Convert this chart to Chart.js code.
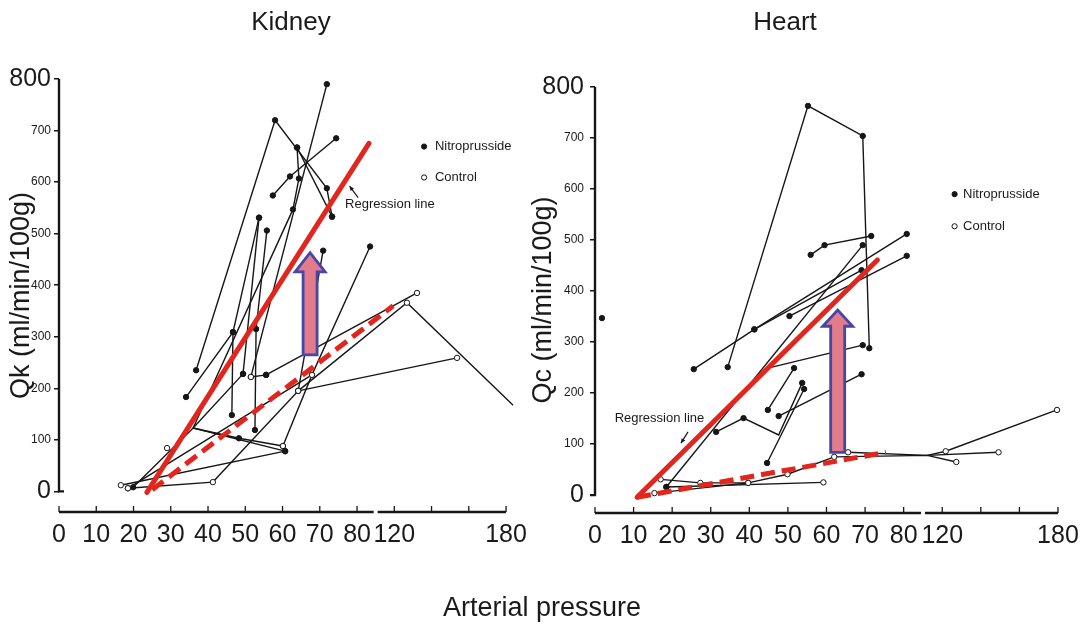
<!DOCTYPE html>
<html>
<head>
<meta charset="utf-8">
<script src="https://cdn.jsdelivr.net/npm/chart.js@4.4.1/dist/chart.umd.min.js"></script>
<style>
  body { margin: 0; background: #fff; font-family: "Liberation Sans", Arial, sans-serif; }
  #wrap { position: relative; width: 1087px; height: 625px; overflow: hidden; }
  .lbl { position: absolute; color: #1a1a1a; transform: translate(-50%, -50%); white-space: nowrap; }
  #kidneyBox { position: absolute; left: 0; top: 0; }
  #heartBox { position: absolute; left: 526px; top: 0; }
</style>
</head>
<body>
<div id="wrap">
  <div id="kidneyBox"><canvas id="kidneyChart" width="540" height="625"></canvas></div>
  <div id="heartBox"><canvas id="heartChart" width="561" height="625"></canvas></div>
  <div class="lbl" style="left:291px; top:21px; font-size:26px">Kidney</div>
  <div class="lbl" style="left:785px; top:21px; font-size:26px">Heart</div>
  <div class="lbl" style="left:542px; top:607px; font-size:27px">Arterial pressure</div>
</div>
<script>
// Each point: [arterial pressure, flow, kind]  kind: "n" nitroprusside, "c" control, "" plain bend
const kidneyLines = [
  [[16.6, 12, "c"], [60.7, 78, "n"]],
  [[18.5, 6, "c"], [41.3, 18, "c"], [64.2, 195, "c"], [70.9, 467, "n"]],
  [[19.9, 8, "n"], [36.0, 123, ""], [60.7, 78, "n"]],
  [[29.0, 84, "c"]],
  [[36.0, 123, ""], [49.4, 228, "n"]],
  [[51.5, 222, "c"], [55.6, 226, "n"]],
  [[36.0, 123, ""], [48.3, 103, "n"], [60.1, 88, "c"]],
  [[60.1, 88, "c"], [67.9, 226, "c"], [83.5, 475, "n"]],
  [[18.5, 6, "c"], [67.9, 226, "c"]],
  [[36.8, 235, "n"], [58.0, 720, "n"], [71.9, 588, "n"], [73.3, 533, "n"]],
  [[34.1, 183, "n"], [46.7, 309, "n"], [53.7, 531, "n"]],
  [[57.4, 574, "n"], [62.0, 611, "n"], [74.4, 685, "n"]],
  [[63.9, 667, "n"], [64.4, 607, "n"], [62.8, 547, "n"], [36.0, 123, ""]],
  [[63.9, 667, "n"], [73.3, 533, "n"]],
  [[53.7, 531, "n"], [49.4, 228, "n"]],
  [[52.6, 119, "n"], [52.9, 315, "n"], [55.8, 506, "n"]],
  [[46.4, 148, "n"], [46.7, 309, "n"]],
  [[51.5, 222, "c"], [71.9, 790, "n"]],
  [[55.6, 226, "n"], [132.2, 385, "c"]],
  [[64.2, 195, "c"], [126.8, 366, "c"], [183.8, 167, ""]],
  [[64.2, 195, "c"], [153.7, 259, "c"]],
];

const heartLines = [
  [[15.4, 4, "c"], [39.7, 24, "c"], [49.9, 41, "c"], [62.0, 75, "c"], [112.2, 78, ""], [127.3, 65, "c"]],
  [[17.0, 31, "c"], [27.3, 24, "c"], [39.7, 24, "c"]],
  [[18.5, 16, "n"], [59.2, 25, "c"]],
  [[65.6, 84, "c"], [112.2, 78, ""], [149.2, 84, "c"]],
  [[112.2, 78, ""], [121.8, 86, "c"], [179.5, 167, "c"]],
  [[34.4, 251, "n"], [55.2, 763, "n"], [69.4, 704, "n"], [71.1, 288, "n"]],
  [[25.6, 247, "n"], [41.3, 325, "n"], [80.8, 512, "n"]],
  [[50.4, 351, "n"], [80.8, 469, "n"]],
  [[41.3, 325, "n"], [69.1, 441, "n"]],
  [[55.9, 471, "n"], [59.5, 490, "n"], [71.6, 508, "n"]],
  [[18.5, 16, "n"], [69.4, 490, "n"]],
  [[44.8, 249, ""], [69.4, 294, "n"]],
  [[31.4, 124, "n"], [38.5, 151, "n"], [47.6, 118, ""], [53.7, 220, "n"]],
  [[44.6, 63, "n"], [54.2, 208, "n"]],
  [[44.8, 167, "n"], [51.6, 249, "n"]],
  [[47.6, 155, "n"], [69.1, 237, "n"]],
  [[1.8, 347, "n"]],
];

// regression lines (solid = nitroprusside, dashed = control)
const kidneyRegression = [[23.6, -2], [83.2, 675]];
const kidneyControlFit = [[25.0, 3], [119.4, 360]];
const heartRegression = [[10.9, -4], [73.2, 461]];
const heartControlFit = [[10.9, -4], [75.4, 84]];

// broken x axis: 0-80 linear, then 120-180 at half scale
const xTickUnits = [0, 10, 20, 30, 40, 50, 60, 70, 80, 90, 100, 110, 120];
const xTickLabels = ["0", "10", "20", "30", "40", "50", "60", "70", "80", "120", "", "", "180"];
const yTicks = [0, 100, 200, 300, 400, 500, 600, 700, 800];

function toUnit(p) {
  return p <= 85 ? p : Math.max(85, 90 + (p - 120) / 2);
}

const INK = "#161616";
const RED = "#e3261d";
const FONT = "'Liberation Sans', Arial, sans-serif";

function buildDatasets(lines, reg, ctrl) {
  const sets = [
    {
      data: reg.map(p => ({ x: toUnit(p[0]), y: p[1] })),
      borderColor: RED, borderWidth: 5, pointRadius: 0, borderCapStyle: "round",
    },
    {
      data: ctrl.map(p => ({ x: toUnit(p[0]), y: p[1] })),
      borderColor: RED, borderWidth: 5, pointRadius: 0, borderDash: [14, 7],
    },
  ];
  lines.forEach(line => {
    sets.push({
      data: line.map(p => ({ x: toUnit(p[0]), y: p[1] })),
      borderColor: INK,
      borderWidth: 1.4,
      pointRadius: line.map(p => (p[2] ? 2.7 : 0)),
      pointBackgroundColor: line.map(p => (p[2] === "c" ? "#fff" : INK)),
      pointBorderColor: INK,
      pointBorderWidth: 1,
    });
  });
  return sets;
}

function drawDot(ctx, x, y, open) {
  ctx.beginPath();
  ctx.arc(x, y, 2.6, 0, Math.PI * 2);
  ctx.fillStyle = open ? "#fff" : INK;
  ctx.fill();
  ctx.lineWidth = 1;
  ctx.strokeStyle = INK;
  ctx.stroke();
}

function drawSmallArrow(ctx, x1, y1, x2, y2) {
  const a = Math.atan2(y2 - y1, x2 - x1);
  ctx.beginPath();
  ctx.moveTo(x1, y1);
  ctx.lineTo(x2, y2);
  ctx.lineWidth = 1.2;
  ctx.strokeStyle = INK;
  ctx.stroke();
  ctx.beginPath();
  ctx.moveTo(x2, y2);
  ctx.lineTo(x2 - 5 * Math.cos(a - 0.45), y2 - 5 * Math.sin(a - 0.45));
  ctx.lineTo(x2 - 5 * Math.cos(a + 0.45), y2 - 5 * Math.sin(a + 0.45));
  ctx.closePath();
  ctx.fillStyle = INK;
  ctx.fill();
}

const decor = {
  id: "decor",
  afterDraw(chart, args, o) {
    const ctx = chart.ctx;
    const xs = chart.scales.x, ys = chart.scales.y;
    const area = chart.chartArea;
    const X = v => xs.getPixelForValue(v);
    const Y = v => ys.getPixelForValue(v);
    ctx.save();
    ctx.strokeStyle = INK;
    ctx.lineWidth = 2.4;
    // y axis
    ctx.beginPath();
    ctx.moveTo(area.left, Y(800));
    ctx.lineTo(area.left, Y(0));
    ctx.lineTo(area.left + o.foot, Y(0));
    ctx.stroke();
    // x axis with a break
    const yb = area.bottom;
    ctx.beginPath();
    ctx.moveTo(X(0), yb);
    ctx.lineTo(X(85) - 2, yb);
    ctx.moveTo(X(85) + 2, yb);
    ctx.lineTo(X(120), yb);
    ctx.stroke();
    ctx.lineWidth = 1.3;
    xTickUnits.forEach(u => {
      ctx.beginPath();
      ctx.moveTo(X(u), yb);
      ctx.lineTo(X(u), yb - 6);
      ctx.stroke();
    });

    // legend
    ctx.font = "13px " + FONT;
    ctx.textBaseline = "middle";
    drawDot(ctx, X(o.legend.x), Y(o.legend.y1), false);
    drawDot(ctx, X(o.legend.x), Y(o.legend.y2), true);
    ctx.fillStyle = "#1a1a1a";
    ctx.fillText("Nitroprusside", X(o.legend.tx), Y(o.legend.y1));
    ctx.fillText("Control", X(o.legend.tx), Y(o.legend.y2));

    // regression label
    ctx.fillText("Regression line", X(o.reg.x), Y(o.reg.y));
    drawSmallArrow(ctx, X(o.reg.ax1), Y(o.reg.ay1), X(o.reg.ax2), Y(o.reg.ay2));

    // big arrow
    const cx = X(o.arrow.x);
    const top = Y(o.arrow.top), base = Y(o.arrow.base), bot = Y(o.arrow.bottom);
    const sw = 7, hw = 15;
    ctx.beginPath();
    ctx.moveTo(cx - sw, bot);
    ctx.lineTo(cx - sw, base);
    ctx.lineTo(cx - hw, base);
    ctx.lineTo(cx, top);
    ctx.lineTo(cx + hw, base);
    ctx.lineTo(cx + sw, base);
    ctx.lineTo(cx + sw, bot);
    ctx.closePath();
    ctx.fillStyle = "#e27b8c";
    ctx.fill();
    ctx.lineWidth = 2.8;
    ctx.strokeStyle = "#4646a6";
    ctx.lineJoin = "miter";
    ctx.stroke();
    ctx.restore();
  },
};

function makeChart(id, cfg) {
  const ctx = document.getElementById(id);
  return new Chart(ctx, {
    type: "line",
    data: { datasets: buildDatasets(cfg.lines, cfg.reg, cfg.ctrl) },
    plugins: [decor],
    options: {
      responsive: false,
      animation: false,
      events: [],
      layout: { padding: { top: cfg.top, right: cfg.right, left: 0, bottom: 0 } },
      elements: { line: { tension: 0, fill: false } },
      scales: {
        x: {
          type: "linear",
          min: 0,
          max: 122,
          afterFit: s => { s.height = cfg.xHeight; },
          afterBuildTicks: s => { s.ticks = xTickUnits.map(v => ({ value: v })); },
          border: { display: false },
          grid: { display: false, drawTicks: false },
          ticks: {
            autoSkip: false, maxRotation: 0, minRotation: 0, padding: 8,
            color: "#1a1a1a",
            font: { size: 25, family: FONT },
            callback: (v, i) => xTickLabels[i],
          },
        },
        y: {
          type: "linear",
          min: cfg.yMin,
          max: 800,
          afterFit: s => { s.width = cfg.yWidth; },
          afterBuildTicks: s => { s.ticks = yTicks.map(v => ({ value: v })); },
          border: { display: false },
          grid: { display: true, drawOnChartArea: false, drawTicks: true, tickLength: 5, color: INK, lineWidth: 1.5 },
          ticks: {
            padding: cfg.yPad,
            color: "#1a1a1a",
            font: c => ({
              size: c.tick && (c.tick.value === 0 || c.tick.value === 800) ? 25 : 12,
              family: FONT,
            }),
          },
          title: {
            display: true,
            text: cfg.yTitle,
            color: "#1a1a1a",
            font: { size: 27, family: FONT },
            padding: { top: cfg.titlePad, bottom: 0 },
          },
        },
      },
      plugins: {
        legend: { display: false },
        tooltip: { enabled: false },
        decor: cfg.decor,
      },
    },
  });
}

makeChart("kidneyChart", {
  lines: kidneyLines, reg: kidneyRegression, ctrl: kidneyControlFit,
  top: 79, right: 26.5, xHeight: 113, yWidth: 59, yMin: -40, yPad: 3, titlePad: 5,
  yTitle: "Qk (ml/min/100g)",
  decor: {
    foot: 5,
    legend: { x: 98.0, tx: 100.9, y1: 669, y2: 609 },
    reg: { x: 76.8, y: 556, ax1: 80.3, ay1: 570, ax2: 78.0, ay2: 592 },
    arrow: { x: 67.4, top: 463, base: 426, bottom: 265 },
  },
});

makeChart("heartChart", {
  lines: heartLines, reg: heartRegression, ctrl: heartControlFit,
  top: 87, right: 10.1, xHeight: 112, yWidth: 69, yMin: -35, yPad: 6, titlePad: 1,
  yTitle: "Qc (ml/min/100g)",
  decor: {
    foot: -5,
    legend: { x: 93.2, tx: 95.4, y1: 590, y2: 527 },
    reg: { x: 5.1, y: 151, ax1: 24.1, ay1: 124, ax2: 22.3, ay2: 102 },
    arrow: { x: 62.9, top: 363, base: 331, bottom: 84 },
  },
});
</script>
</body>
</html>
